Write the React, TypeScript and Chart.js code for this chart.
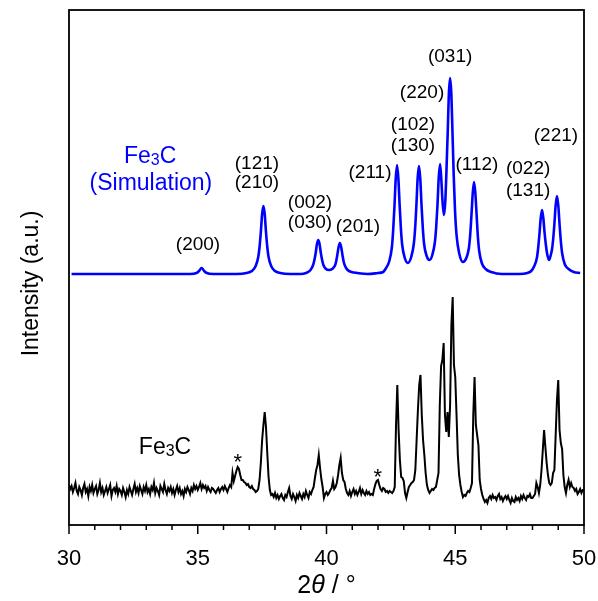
import { useEffect, useRef } from "react";
import { Chart, registerables } from "chart.js";

Chart.register(...registerables);

// ---- Simulated Fe3C pattern (blue), 2θ and intensity (a.u.) ----
const simX = [
  30.1, 31, 32, 33, 34, 34.7, 34.95, 35.05, 35.15, 35.25, 35.35, 35.6, 36.5, 36.9, 37.1,
  37.25, 37.35, 37.4, 37.45, 37.5, 37.55, 37.6, 37.65, 37.7, 37.75, 37.85, 38.0, 38.2, 38.6,
  39.0, 39.2, 39.38, 39.48, 39.53, 39.58, 39.63, 39.68, 39.73, 39.78, 39.83, 39.88, 39.98,
  40.1, 40.22, 40.32, 40.37, 40.42, 40.47, 40.52, 40.57, 40.62, 40.67, 40.72, 40.82, 40.97,
  41.2, 41.6, 42.0, 42.2, 42.29, 42.44, 42.54, 42.59, 42.64, 42.69, 42.74, 42.79, 42.84,
  42.89, 42.94, 43.04, 43.16, 43.29, 43.39, 43.44, 43.49, 43.54, 43.59, 43.64, 43.69, 43.74,
  43.79, 43.89, 44.0, 44.11, 44.21, 44.26, 44.31, 44.36, 44.41, 44.46, 44.51, 44.56, 44.61,
  44.66, 44.71, 44.75, 44.8, 44.85, 44.89, 44.94, 44.99, 45.05, 45.15, 45.3, 45.43, 45.53,
  45.58, 45.63, 45.68, 45.73, 45.78, 45.83, 45.88, 45.93, 46.03, 46.18, 46.4, 46.8, 47.5,
  47.8, 47.95, 48.07, 48.17, 48.22, 48.27, 48.32, 48.37, 48.42, 48.47, 48.52, 48.57, 48.64,
  48.71, 48.76, 48.8, 48.85, 48.9, 48.95, 49.0, 49.05, 49.1, 49.15, 49.25, 49.4, 49.6, 49.85,
];
const simY = [
  251, 251, 251, 251, 251, 251, 252, 254, 257, 254, 252, 251, 251, 252, 254,
  259, 268, 278, 293, 311, 319, 311, 293, 278, 268, 259, 254, 252, 251,
  251, 252, 255, 260, 265, 272, 281, 285, 281, 272, 265, 260, 256,
  255, 256, 259, 263, 270, 278, 282, 278, 270, 263, 259, 255, 253,
  252, 251, 252, 253, 256, 264, 278, 295, 319, 347, 360, 347, 320,
  296, 280, 267, 262, 268, 281, 296, 319, 347, 359, 347, 320, 297,
  281, 269, 265, 270, 283, 298, 320, 348, 361, 345, 322, 310, 322,
  355, 395, 430, 447, 430, 395, 350, 315, 290, 272, 263, 267, 277,
  290, 310, 332, 343, 332, 310, 288, 274, 262, 256, 253, 251, 251,
  252, 254, 259, 267, 277, 291, 307, 315, 307, 292, 280, 271, 265,
  270, 276, 285, 301, 320, 329, 320, 301, 284, 272, 261, 256, 253, 252,
];

// ---- Measured Fe3C pattern (black): 2θ from 30.00 to 50.00 in 0.05° steps ----
const expStart = 30;
const expStep = 0.05;
const expY = [
  40, 36, 39, 33, 37, 42, 34, 31, 38, 35, 30, 37, 41, 33, 36, 29, 38, 34, 40, 32,
  36, 39, 31, 35, 42, 33, 37, 30, 34, 38, 32, 36, 40, 29, 35, 37, 33, 39, 31, 36,
  34, 30, 37, 33, 28, 35, 31, 38, 34, 30, 36, 41, 33, 37, 32, 39, 35, 31, 38, 34,
  40, 33, 36, 31, 38, 35, 42, 32, 37, 34, 30, 39, 36, 33, 41, 35, 31, 37, 34, 38,
  32, 36, 30, 35, 39, 33, 37, 31, 34, 29, 36, 33, 38, 35, 31, 37, 34, 40, 36, 39,
  35, 38, 42, 36, 40, 37, 39, 34, 38, 35, 33, 37, 36, 34, 32, 35, 37, 33, 36, 38,
  35, 39, 36, 33, 37, 40, 38, 52, 44, 49, 54, 58, 56, 50, 45, 45, 43, 42, 40, 41,
  38, 37, 39, 36, 35, 33, 34, 36, 45, 62, 85, 100, 113, 98, 72, 48, 35, 30, 31, 28,
  32, 27, 30, 26, 29, 31, 27, 25, 30, 28, 33, 37, 29, 26, 31, 28, 24, 30, 27, 32,
  29, 26, 31, 28, 34, 30, 27, 33, 31, 35, 38, 47, 55, 60, 70, 57, 46, 38, 27, 31,
  33, 30, 32, 35, 37, 44, 36, 38, 42, 50, 60, 67, 52, 45, 43, 36, 32, 30, 34, 29,
  33, 36, 31, 34, 30, 33, 37, 31, 35, 32, 30, 34, 31, 33, 30, 31, 30, 36, 41, 44,
  45, 40, 36, 34, 37, 36, 33, 34, 32, 34, 33, 32, 34, 38, 100, 140, 95, 65, 48, 47,
  44, 32, 27, 33, 38, 40, 42, 43, 45, 55, 85, 115, 140, 150, 110, 85, 70, 52, 40, 35,
  32, 34, 36, 35, 37, 38, 45, 52, 120, 159, 165, 182, 110, 93, 113, 88, 120, 200, 228, 160,
  148, 110, 70, 50, 40, 33, 28, 30, 29, 32, 34, 33, 37, 42, 110, 148, 100, 90, 80, 45,
  36, 30, 26, 23, 25, 22, 27, 29, 26, 30, 27, 28, 25, 29, 31, 26, 28, 24, 27, 29,
  26, 29, 25, 22, 27, 24, 23, 28, 25, 27, 24, 29, 26, 30, 27, 25, 29, 28, 31, 27,
  27, 29, 31, 42, 38, 32, 40, 55, 75, 95, 78, 62, 50, 42, 40, 42, 52, 55, 90, 125,
  145, 95, 82, 76, 50, 38, 32, 40, 45, 38, 42, 38, 37, 34, 36, 31, 33, 36, 32, 35,
  35,
];

// ---- Axis ----
const xMin = 30;
const xMax = 50;
const yMin = 0;
const yMax = 515;
const xTickLabels = [30, 35, 40, 45, 50];

// ---- Annotations (data coordinates) ----
const hklText = [
  "(200)", "(121)", "(210)", "(002)", "(030)", "(201)", "(211)", "(102)", "(130)",
  "(220)", "(031)", "(112)", "(022)", "(131)", "(221)",
];
const hklX = [35.01, 37.3, 37.3, 39.36, 39.36, 41.22, 41.69, 43.36, 43.36, 43.71, 44.8, 45.84, 47.83, 47.83, 48.91];
const hklY = [280, 361, 342, 322, 302, 298, 352, 400, 379, 432, 468, 360, 356, 334, 389];
const simNameX = [33.15, 33.18];
const simNameY = [370, 341];
const expNameX = 33.73;
const expNameY = 79;
const starX = [36.55, 41.99];
const starY = [69, 54];

const FONT = '"Liberation Sans", Arial, Helvetica, sans-serif';
const BLUE = "#0000ff";

function drawFe3C(ctx: CanvasRenderingContext2D, cx: number, cy: number, size: number, color: string) {
  ctx.save();
  ctx.fillStyle = color;
  ctx.textAlign = "left";
  ctx.textBaseline = "alphabetic";
  const big = `${size}px ${FONT}`;
  const small = `${Math.round(size * 0.68)}px ${FONT}`;
  ctx.font = big;
  const wFe = ctx.measureText("Fe").width;
  const wC = ctx.measureText("C").width;
  ctx.font = small;
  const w3 = ctx.measureText("3").width;
  const total = wFe + w3 + wC;
  const base = cy + size * 0.36;
  let x0 = cx - total / 2;
  ctx.font = big;
  ctx.fillText("Fe", x0, base);
  x0 += wFe;
  ctx.font = small;
  ctx.fillText("3", x0, base + size * 0.08);
  x0 += w3;
  ctx.font = big;
  ctx.fillText("C", x0, base);
  ctx.restore();
}

const decor = {
  id: "decor",
  afterDraw(chart: any) {
    const { ctx, chartArea: a } = chart;
    const x = chart.scales.x;
    const y = chart.scales.y;
    ctx.save();
    // frame
    ctx.strokeStyle = "#000";
    ctx.lineWidth = 1.8;
    ctx.strokeRect(a.left, a.top, a.right - a.left, a.bottom - a.top);
    // tick marks (major every 5°, minor every 1°)
    ctx.lineWidth = 1.5;
    for (const t of x.ticks) {
      const px = x.getPixelForValue(t.value);
      const major = xTickLabels.includes(t.value);
      ctx.beginPath();
      ctx.moveTo(px, a.bottom);
      ctx.lineTo(px, a.bottom + (major ? 9 : 5));
      ctx.stroke();
    }
    // hkl labels
    ctx.fillStyle = "#000";
    ctx.textAlign = "center";
    ctx.textBaseline = "alphabetic";
    ctx.font = `19px ${FONT}`;
    hklText.forEach((s, i) => {
      ctx.fillText(s, x.getPixelForValue(hklX[i]), y.getPixelForValue(hklY[i]) + 19 * 0.27);
    });
    // asterisks
    ctx.font = `22px ${FONT}`;
    starX.forEach((v, i) => {
      ctx.fillText("*", x.getPixelForValue(v), y.getPixelForValue(starY[i]) + 22 * 0.58);
    });
    // series names
    drawFe3C(ctx, x.getPixelForValue(simNameX[0]), y.getPixelForValue(simNameY[0]), 23, BLUE);
    ctx.fillStyle = BLUE;
    ctx.font = `23px ${FONT}`;
    ctx.textAlign = "center";
    ctx.fillText("(Simulation)", x.getPixelForValue(simNameX[1]), y.getPixelForValue(simNameY[1]) + 23 * 0.27);
    drawFe3C(ctx, x.getPixelForValue(expNameX), y.getPixelForValue(expNameY), 23, "#000");

    // y-axis title
    ctx.fillStyle = "#000";
    ctx.save();
    ctx.translate(31.5 + 23 * 0.27, (a.top + a.bottom) / 2 + 16);
    ctx.rotate(-Math.PI / 2);
    ctx.font = `23px ${FONT}`;
    ctx.textAlign = "center";
    ctx.fillText("Intensity (a.u.)", 0, 0);
    ctx.restore();

    // x-axis title "2θ / °"
    const fs = 25;
    const partA = "2";
    const partB = "θ";
    const partC = " / °";
    ctx.textAlign = "left";
    ctx.font = `${fs}px ${FONT}`;
    const wA = ctx.measureText(partA).width;
    const wC = ctx.measureText(partC).width;
    ctx.font = `italic ${fs}px ${FONT}`;
    const wB = ctx.measureText(partB).width;
    const cx = (a.left + a.right) / 2;
    const base = a.bottom + 68;
    let x0 = cx - (wA + wB + wC) / 2;
    ctx.font = `${fs}px ${FONT}`;
    ctx.fillText(partA, x0, base);
    x0 += wA;
    ctx.font = `italic ${fs}px ${FONT}`;
    ctx.fillText(partB, x0, base);
    x0 += wB;
    ctx.font = `${fs}px ${FONT}`;
    ctx.fillText(partC, x0, base);
    ctx.restore();
  },
};

export default function App() {
  const ref = useRef<HTMLCanvasElement | null>(null);

  useEffect(() => {
    if (!ref.current) return;
    const simData = simX.map((v, i) => ({ x: v, y: simY[i] }));
    const expData = expY.map((v, i) => ({ x: expStart + i * expStep, y: v }));
    const chart = new Chart(ref.current, {
      type: "line",
      data: {
        datasets: [
          {
            label: "Fe3C (Simulation)",
            data: simData,
            borderColor: BLUE,
            borderWidth: 2.6,
            pointRadius: 0,
            cubicInterpolationMode: "monotone",
            fill: false,
          },
          {
            label: "Fe3C",
            data: expData,
            borderColor: "#000",
            borderWidth: 2,
            pointRadius: 0,
            tension: 0,
            fill: false,
          },
        ],
      },
      options: {
        animation: false,
        responsive: true,
        maintainAspectRatio: false,
        layout: { padding: { left: 69, right: 14, top: 10, bottom: 0 } },
        plugins: { legend: { display: false }, tooltip: { enabled: false } },
        scales: {
          x: {
            type: "linear",
            min: xMin,
            max: xMax,
            grid: { display: false, drawTicks: false },
            border: { display: false },
            ticks: {
              stepSize: 1,
              autoSkip: false,
              maxRotation: 0,
              padding: 21,
              color: "#000",
              font: { size: 22, family: FONT },
              callback: (v: any) => (xTickLabels.includes(Number(v)) ? String(v) : ""),
            },
            afterFit: (s: any) => {
              s.height = 76;
              s.paddingLeft = 0;
              s.paddingRight = 0;
            },
          },
          y: {
            type: "linear",
            min: yMin,
            max: yMax,
            display: false,
          },
        },
      },
      plugins: [decor],
    });
    return () => chart.destroy();
  }, []);

  return (
    <div style={{ position: "fixed", left: 0, top: 0, width: 598, height: 601, background: "#fff" }}>
      <canvas ref={ref} style={{ display: "block" }} />
    </div>
  );
}
